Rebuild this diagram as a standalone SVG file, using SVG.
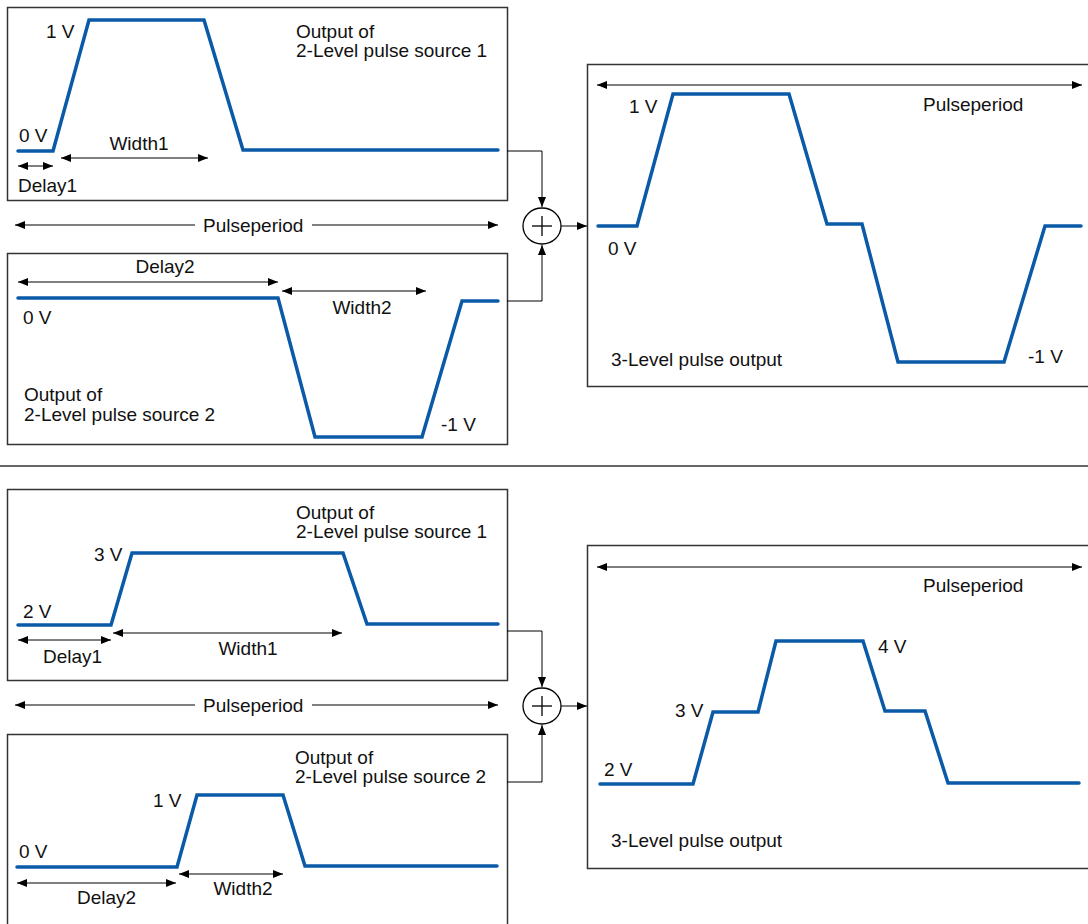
<svg xmlns="http://www.w3.org/2000/svg" width="1088" height="924" viewBox="0 0 1088 924">
<defs>
<marker id="ah" viewBox="0 0 10 8" refX="10" refY="4" markerWidth="10" markerHeight="8" markerUnits="userSpaceOnUse" orient="auto-start-reverse">
<path d="M0,0 L10,4 L0,8 z" fill="#000"/>
</marker>
<style>
.box{fill:#fff;stroke:#333;stroke-width:1.5}
.wave{fill:none;stroke:#0a5aa8;stroke-width:3.5;stroke-linejoin:miter;stroke-linecap:round}
.dim{fill:none;stroke:#000;stroke-width:1;marker-start:url(#ah);marker-end:url(#ah)}
.one{fill:none;stroke:#000;stroke-width:1;marker-end:url(#ah)}
.con{fill:none;stroke:#000;stroke-width:1.2}
.t{font-family:"Liberation Sans",Arial,sans-serif;font-size:19px;fill:#111}
.m{text-anchor:middle}
</style>
</defs>
<rect width="1088" height="924" fill="#fff"/>

<!-- Top section -->
<g id="src1-top">
<rect class="box" x="7.5" y="7.5" width="500" height="193"/>
<polyline class="wave" points="18,151 53,151 89,20 204,20 243,150 498,150"/>
<text class="t" x="46" y="38">1 V</text>
<text class="t" x="19" y="142">0 V</text>
<text class="t" x="296" y="38">Output of</text>
<text class="t" x="296" y="57">2-Level pulse source 1</text>
<line class="dim" x1="18" y1="166" x2="53" y2="166"/>
<text class="t" x="18" y="192">Delay1</text>
<line class="dim" x1="61" y1="158" x2="208" y2="158"/>
<text class="t m" x="139" y="150">Width1</text>
</g>

<g id="period-top">
<line class="one" x1="195" y1="225" x2="15" y2="225"/>
<text class="t" x="203" y="232">Pulseperiod</text>
<line class="one" x1="312" y1="225" x2="498" y2="225"/>
</g>

<g id="src2-top">
<rect class="box" x="7.5" y="253.5" width="500" height="191"/>
<polyline class="wave" points="18,298 278,298 315,437 422,437 462,301 498,301"/>
<line class="dim" x1="18" y1="282" x2="278" y2="282"/>
<text class="t m" x="165" y="273">Delay2</text>
<line class="dim" x1="282" y1="291" x2="426" y2="291"/>
<text class="t m" x="362" y="314">Width2</text>
<text class="t" x="23" y="324">0 V</text>
<text class="t" x="24" y="401">Output of</text>
<text class="t" x="24" y="421">2-Level pulse source 2</text>
<text class="t" x="441" y="431">-1 V</text>
</g>

<g id="sum-top">
<ellipse cx="542" cy="226" rx="19" ry="18" fill="#fff" stroke="#000" stroke-width="1.3"/>
<line x1="532" y1="226" x2="552" y2="226" stroke="#000" stroke-width="1.3"/>
<line x1="542" y1="216" x2="542" y2="236" stroke="#000" stroke-width="1.3"/>
</g>

<g id="out-top">
<rect class="box" x="587.5" y="64.5" width="510" height="322"/>
<line class="dim" x1="597" y1="85" x2="1082" y2="85"/>
<text class="t" x="923" y="111">Pulseperiod</text>
<polyline class="wave" points="598,226 637,226 673,94 789,94 827,224 862,224 898,362 1004,362 1045,226 1081,226"/>
<text class="t" x="629" y="113">1 V</text>
<text class="t" x="608" y="255">0 V</text>
<text class="t" x="611" y="366">3-Level pulse output</text>
<text class="t" x="1028" y="363">-1 V</text>
</g>

<line id="divider" x1="0" y1="466" x2="1088" y2="466" stroke="#333" stroke-width="1.5"/>

<!-- Bottom section -->
<g id="src1-bot">
<rect class="box" x="7.5" y="489.5" width="500" height="191"/>
<polyline class="wave" points="18,625 111,625 132,553 343,553 367,624 498,624"/>
<text class="t" x="94" y="561">3 V</text>
<text class="t" x="23" y="618">2 V</text>
<text class="t" x="296" y="519">Output of</text>
<text class="t" x="296" y="538">2-Level pulse source 1</text>
<line class="dim" x1="18" y1="640" x2="111" y2="640"/>
<text class="t" x="43" y="663">Delay1</text>
<line class="dim" x1="113" y1="633" x2="342" y2="633"/>
<text class="t m" x="248" y="655">Width1</text>
</g>

<g id="period-bot">
<line class="one" x1="195" y1="705" x2="15" y2="705"/>
<text class="t" x="203" y="712">Pulseperiod</text>
<line class="one" x1="312" y1="705" x2="498" y2="705"/>
</g>

<g id="src2-bot">
<rect class="box" x="7.5" y="734.5" width="500" height="200"/>
<polyline class="wave" points="17,867 177,867 197,795 283,795 305,866 497,866"/>
<text class="t" x="153" y="807">1 V</text>
<text class="t" x="19" y="858">0 V</text>
<text class="t" x="295" y="764">Output of</text>
<text class="t" x="295" y="783">2-Level pulse source 2</text>
<line class="dim" x1="17" y1="883" x2="176" y2="883"/>
<text class="t" x="77" y="904">Delay2</text>
<line class="dim" x1="179" y1="874" x2="283" y2="874"/>
<text class="t m" x="243" y="895">Width2</text>
</g>

<g id="sum-bot">
<ellipse cx="542" cy="706" rx="19" ry="18" fill="#fff" stroke="#000" stroke-width="1.3"/>
<line x1="532" y1="706" x2="552" y2="706" stroke="#000" stroke-width="1.3"/>
<line x1="542" y1="696" x2="542" y2="716" stroke="#000" stroke-width="1.3"/>
</g>

<g id="out-bot">
<rect class="box" x="587.5" y="545.5" width="510" height="323"/>
<line class="dim" x1="597" y1="567" x2="1082" y2="567"/>
<text class="t" x="923" y="592">Pulseperiod</text>
<polyline class="wave" points="600,784 693,784 713,712 758,712 776,641 863,641 885,711 925,711 948,783 1079,783"/>
<text class="t" x="878" y="653">4 V</text>
<text class="t" x="675" y="717">3 V</text>
<text class="t" x="604" y="776">2 V</text>
<text class="t" x="611" y="847">3-Level pulse output</text>
</g>

<g id="connectors">
<polyline class="one" points="507,151 542,151 542,207"/>
<polyline class="one" points="507,301 542,301 542,245"/>
<line class="one" x1="561" y1="226" x2="587" y2="226"/>
<polyline class="one" points="507,631 542,631 542,687"/>
<polyline class="one" points="507,782 542,782 542,725"/>
<line class="one" x1="561" y1="706" x2="587" y2="706"/>
</g>
</svg>
